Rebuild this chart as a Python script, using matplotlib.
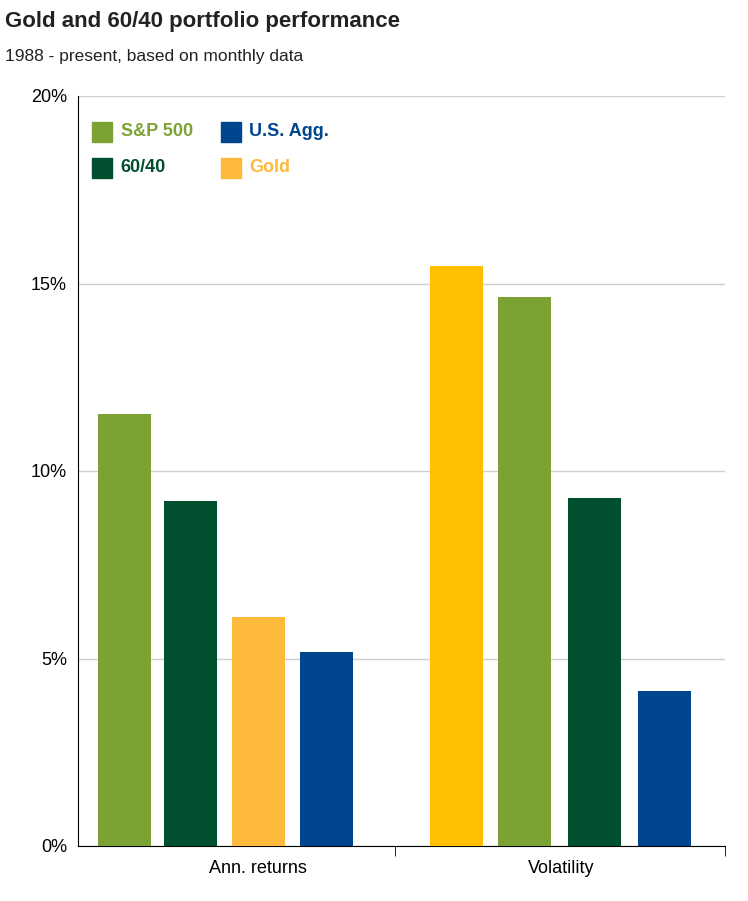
import matplotlib.pyplot as plt
from matplotlib.patches import Rectangle

plt.rcParams['font.family'] = ['Liberation Sans', 'DejaVu Sans']

groups = ['Ann. returns', 'Volatility']
# order of bars inside each group
ret_series = ['S&P 500', '60/40', 'Gold', 'U.S. Agg.']
ret_values = [11.52, 9.2, 6.12, 5.18]
vol_series = ['Gold', 'S&P 500', '60/40', 'U.S. Agg.']
vol_values = [15.47, 14.65, 9.28, 4.13]

colors = {'S&P 500': '#7BA232', '60/40': '#00502F', 'Gold': '#FFC000', 'U.S. Agg.': '#00468E'}
gold_returns_color = '#FDBA3A'

fig = plt.figure(figsize=(7.48, 9.01), dpi=100)
ax = fig.add_axes([78/748, 1-846/901, (725-78)/748, (846-96)/901])

w = 0.175
ret_off = [-0.441, -0.223, 0.002, 0.226]
vol_off = [-0.345, -0.121, 0.111, 0.342]
for s, v, o in zip(ret_series, ret_values, ret_off):
    c = gold_returns_color if s == 'Gold' else colors[s]
    ax.bar(0 + o, v, width=w, color=c, zorder=3)
for s, v, o in zip(vol_series, vol_values, vol_off):
    ax.bar(1 + o, v, width=w, color=colors[s], zorder=3)

ax.set_xlim(-0.594, 1.541)
ax.set_ylim(0, 20)
ax.set_yticks([0, 5, 10, 15, 20])
ax.set_yticklabels(['0%', '5%', '10%', '15%', '20%'], fontsize=13)
ax.yaxis.grid(True, color='#D0D0D0', linewidth=1, zorder=0)
ax.set_xticks([0, 1])
ax.set_xticklabels(groups, fontsize=13)
ax.tick_params(axis='x', length=0, pad=10)
ax.tick_params(axis='y', length=0, pad=8)
ax.set_xticks([0.452, 1.541], minor=True)
ax.tick_params(axis='x', which='minor', length=7, color='black')
for sp in ['top', 'right']:
    ax.spines[sp].set_visible(False)
ax.spines['left'].set_color('black')
ax.spines['bottom'].set_color('black')

# legend
legend = [('S&P 500', 0.022, 0.952), ('U.S. Agg.', 0.221, 0.952),
          ('60/40', 0.022, 0.904), ('Gold', 0.221, 0.904)]
for name, x, y in legend:
    ax.add_patch(Rectangle((x, y - 0.0135), 0.031, 0.027, transform=ax.transAxes,
                           color=colors[name] if name != 'Gold' else gold_returns_color,
                           zorder=4, clip_on=False))
    ax.text(x + 0.044, y, name, transform=ax.transAxes, fontsize=13, fontweight='bold',
            color=colors[name] if name != 'Gold' else gold_returns_color, va='center', zorder=4)

fig.text(5/748, 1-22/901, 'Gold and 60/40 portfolio performance', fontsize=16,
         fontweight='bold', va='center', color='#222222')
fig.text(5/748, 1-56/901, '1988 - present, based on monthly data', fontsize=12.5,
         va='center', color='#222222')

fig.savefig('out.png', dpi=100)
